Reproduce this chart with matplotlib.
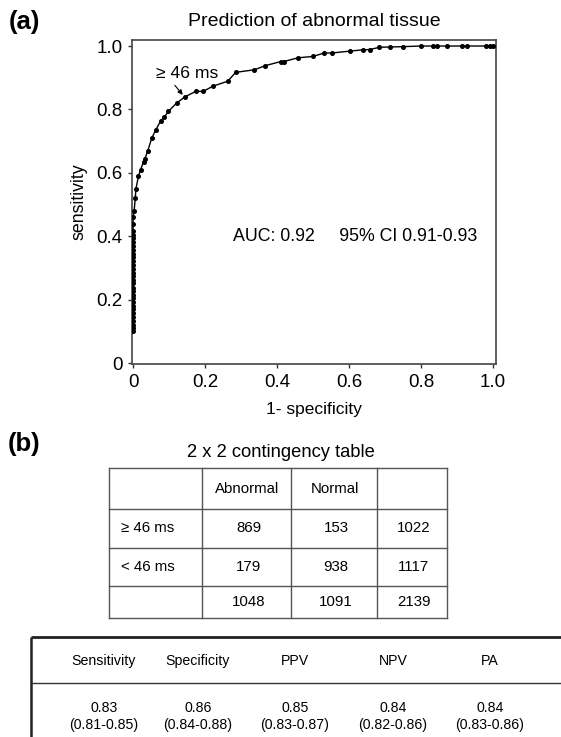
import numpy as np
import matplotlib.pyplot as plt

plt.rcParams['font.family'] = ['Liberation Sans', 'DejaVu Sans']

# ROC curve points (1 - specificity, sensitivity)
roc_fpr = [0.0, 0.0, 0.0, 0.0, 0.0, 0.0, 0.0, 0.0, 0.0, 0.0,
           0.0, 0.0, 0.0, 0.0, 0.0, 0.0, 0.0, 0.0, 0.0, 0.0,
           0.0, 0.0, 0.0, 0.0, 0.0, 0.0, 0.0, 0.0, 0.0, 0.0,
           0.003, 0.006, 0.008, 0.015, 0.021, 0.029, 0.033, 0.041, 0.052, 0.063,
           0.077, 0.087, 0.098, 0.121, 0.143, 0.174, 0.195, 0.221, 0.263, 0.285,
           0.337, 0.367, 0.410, 0.418, 0.459, 0.499, 0.531, 0.552, 0.603, 0.638,
           0.658, 0.684, 0.714, 0.749, 0.799, 0.832, 0.845, 0.873, 0.913, 0.927,
           0.980, 0.990, 1.0]
roc_tpr = [0.100, 0.112, 0.121, 0.133, 0.146, 0.158, 0.169, 0.180, 0.193, 0.205,
           0.214, 0.226, 0.238, 0.251, 0.262, 0.274, 0.285, 0.297, 0.310, 0.322,
           0.333, 0.345, 0.356, 0.369, 0.381, 0.394, 0.405, 0.418, 0.439, 0.460,
           0.480, 0.520, 0.550, 0.590, 0.610, 0.635, 0.645, 0.670, 0.710, 0.735,
           0.765, 0.776, 0.794, 0.820, 0.839, 0.857, 0.857, 0.873, 0.889, 0.917,
           0.925, 0.938, 0.951, 0.951, 0.963, 0.967, 0.978, 0.978, 0.984, 0.988,
           0.989, 0.996, 0.997, 0.998, 1.0, 1.0, 1.0, 1.0, 1.0, 1.0,
           1.0, 1.0, 1.0]

tick_vals = [0, 0.2, 0.4, 0.6, 0.8, 1.0]
tick_labels = ['0', '0.2', '0.4', '0.6', '0.8', '1.0']

cutoff_label = '\u2265 46 ms'
auc_text = 'AUC: 0.92     95% CI 0.91-0.93'

# 2 x 2 contingency table
ct_col_labels = ['', 'Abnormal', 'Normal', '']
ct_row_labels = ['\u2265 46 ms', '< 46 ms', '']
ct_values = [['869', '153', '1022'],
             ['179', '938', '1117'],
             ['1048', '1091', '2139']]

# diagnostic performance table
perf_headers = ['Sensitivity', 'Specificity', 'PPV', 'NPV', 'PA']
perf_values = ['0.83', '0.86', '0.85', '0.84', '0.84']
perf_ci = ['(0.81-0.85)', '(0.84-0.88)', '(0.83-0.87)', '(0.82-0.86)', '(0.83-0.86)']

W, H = 561, 737
fig = plt.figure(figsize=(W / 100, H / 100), dpi=100)

# ---- (a) ROC curve ----
left, right, top, bottom = 132, 496, 40, 364
ax = fig.add_axes([left / W, 1 - bottom / H, (right - left) / W, (bottom - top) / H])
ax.plot(roc_fpr, roc_tpr, color='black', lw=1.0, marker='o', ms=2.6, zorder=3)
ax.set_xlim(-0.003, 1.008)
ax.set_ylim(-0.003, 1.019)
ax.set_xticks(tick_vals)
ax.set_xticklabels(tick_labels)
ax.set_yticks(tick_vals)
ax.set_yticklabels(tick_labels)
ax.tick_params(labelsize=13.5, direction='out', length=3, width=1, color='#333333', pad=4)
for s in ax.spines.values():
    s.set_color('#444444')
    s.set_linewidth(1.2)
ax.set_title('Prediction of abnormal tissue', fontsize=14, pad=10)
ax.set_xlabel('1- specificity', fontsize=12.5, labelpad=8)
ax.set_ylabel('sensitivity', fontsize=12.8, labelpad=6)
ax.text(0.15, 0.912, cutoff_label, fontsize=12.6, ha='center', va='center')
ax.annotate('', xy=(0.138, 0.846), xytext=(0.116, 0.876),
            arrowprops=dict(arrowstyle='-|>', color='black', lw=0.8,
                            mutation_scale=7, shrinkA=0, shrinkB=0))
ax.text(0.278, 0.4, auc_text, fontsize=12.8, ha='left', va='center')

# ---- overlay in pixel coordinates for labels and tables ----
ov = fig.add_axes([0, 0, 1, 1], zorder=-1)
ov.set_xlim(0, W)
ov.set_ylim(H, 0)
ov.axis('off')

ov.text(9, 22, '(a)', fontsize=18.5, fontweight='bold', va='center', ha='left')
ov.text(8, 444, '(b)', fontsize=18.5, fontweight='bold', va='center', ha='left')

# contingency table
ct_x = [109, 202, 291, 377, 447]
ct_y = [468, 509, 548, 586, 618]
ov.text((ct_x[0] + ct_x[-1]) / 2 + 3, 452, '2 x 2 contingency table', fontsize=13.2,
        ha='center', va='center')
for xv in ct_x:
    ov.plot([xv, xv], [ct_y[0], ct_y[-1]], color='#555555', lw=1.0)
for yv in ct_y:
    ov.plot([ct_x[0], ct_x[-1]], [yv, yv], color='#555555', lw=1.0)
for j, lab in enumerate(ct_col_labels):
    ov.text((ct_x[j] + ct_x[j + 1]) / 2 + 1, (ct_y[0] + ct_y[1]) / 2, lab,
            fontsize=10.8, ha='center', va='center')
for i, lab in enumerate(ct_row_labels):
    yc = (ct_y[i + 1] + ct_y[i + 2]) / 2
    ov.text(ct_x[0] + 12, yc, lab, fontsize=10.8, ha='left', va='center')
    for j, v in enumerate(ct_values[i]):
        ov.text((ct_x[j + 1] + ct_x[j + 2]) / 2 + 2, yc, v,
                fontsize=10.8, ha='center', va='center')

# performance table
pt_left, pt_top, pt_sep = 31, 637, 683
ov.plot([pt_left, W], [pt_top, pt_top], color='#222222', lw=2.0, solid_capstyle='butt')
ov.plot([pt_left, pt_left], [pt_top, H], color='#222222', lw=1.8, solid_capstyle='butt')
ov.plot([pt_left, W], [pt_sep, pt_sep], color='#333333', lw=1.0)
pt_centers = [104, 198, 295, 393, 490]
for xc, h, v, ci in zip(pt_centers, perf_headers, perf_values, perf_ci):
    ov.text(xc, 661, h, fontsize=10.2, ha='center', va='center')
    ov.text(xc, 708, v, fontsize=10.2, ha='center', va='center')
    ov.text(xc, 725, ci, fontsize=10.2, ha='center', va='center')

fig.savefig('out.png', dpi=100)
